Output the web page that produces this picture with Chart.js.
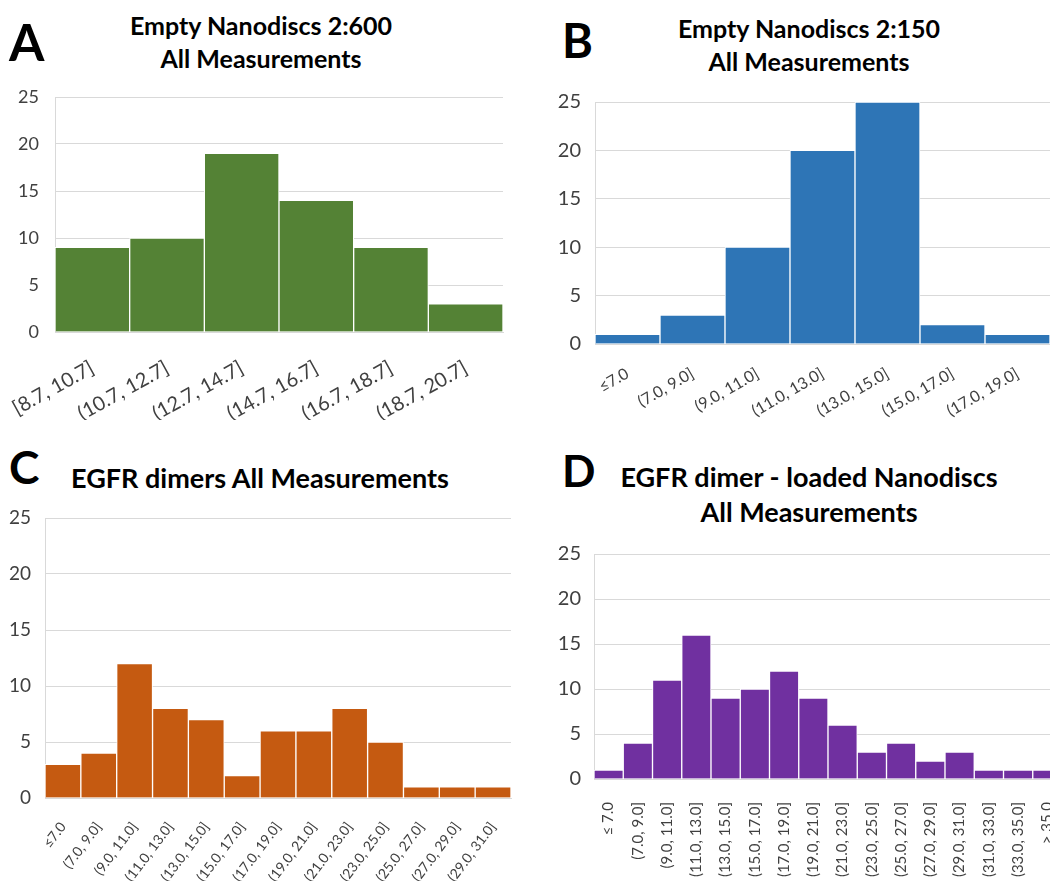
<!DOCTYPE html>
<html>
<head>
<meta charset="utf-8">
<script src="https://cdn.jsdelivr.net/npm/chart.js@4.4.0/dist/chart.umd.min.js"></script>
<style>
  body { margin: 0; background: #fff; width: 1050px; height: 881px; overflow: hidden; position: relative; font-family: Lato, sans-serif; }
  canvas { position: absolute; }
  .letter { position: absolute; font-weight: bold; line-height: 1; color: #000; }
  .title { position: absolute; font-weight: bold; color: #000; text-align: center; white-space: nowrap; transform: translateX(-50%); }
</style>
</head>
<body>

<div class="letter" style="left:9px;top:16px;font-size:51px;">A</div>
<div class="title" style="left:261px;top:9px;font-size:25px;line-height:33px;">Empty Nanodiscs 2:600<br>All Measurements</div>
<canvas id="chartA" width="520" height="340" style="left:0;top:80px;"></canvas>

<div class="letter" style="left:562px;top:17px;font-size:47px;">B</div>
<div class="title" style="left:809px;top:12px;font-size:25px;line-height:33px;">Empty Nanodiscs 2:150<br>All Measurements</div>
<canvas id="chartB" width="530" height="340" style="left:520px;top:80px;"></canvas>

<div class="letter" style="left:9px;top:444px;font-size:46px;">C</div>
<div class="title" style="left:260px;top:461px;font-size:27px;line-height:33px;">EGFR dimers All Measurements</div>
<canvas id="chartC" width="520" height="381" style="left:0;top:500px;"></canvas>

<div class="letter" style="left:562px;top:448px;font-size:44px;">D</div>
<div class="title" style="left:809px;top:459px;font-size:27px;line-height:35px;">EGFR dimer - loaded Nanodiscs<br>All Measurements</div>
<canvas id="chartD" width="542" height="351" style="left:520px;top:530px;"></canvas>

<script>
// counts per bin
const labelsA = ["[8.7, 10.7]", "(10.7, 12.7]", "(12.7, 14.7]", "(14.7, 16.7]", "(16.7, 18.7]", "(18.7, 20.7]"];
const countsA = [9, 10, 19, 14, 9, 3];

const labelsB = ["≤7.0", "(7.0, 9.0]", "(9.0, 11.0]", "(11.0, 13.0]", "(13.0, 15.0]", "(15.0, 17.0]", "(17.0, 19.0]"];
const countsB = [1, 3, 10, 20, 25, 2, 1];

const labelsC = ["≤7.0", "(7.0, 9.0]", "(9.0, 11.0]", "(11.0, 13.0]", "(13.0, 15.0]", "(15.0, 17.0]", "(17.0, 19.0]",
  "(19.0, 21.0]", "(21.0, 23.0]", "(23.0, 25.0]", "(25.0, 27.0]", "(27.0, 29.0]", "(29.0, 31.0]"];
const countsC = [3, 4, 12, 8, 7, 2, 6, 6, 8, 5, 1, 1, 1];

const labelsD = ["≤ 7.0", "(7.0, 9.0]", "(9.0, 11.0]", "(11.0, 13.0]", "(13.0, 15.0]", "(15.0, 17.0]", "(17.0, 19.0]",
  "(19.0, 21.0]", "(21.0, 23.0]", "(23.0, 25.0]", "(25.0, 27.0]", "(27.0, 29.0]", "(29.0, 31.0]", "(31.0, 33.0]",
  "(33.0, 35.0]", "> 35.0"];
const countsD = [1, 4, 11, 16, 9, 10, 12, 9, 6, 3, 4, 2, 3, 1, 1, 1];

const yTicks = [0, 5, 10, 15, 20, 25];

const gridGray = "#d9d9d9";
const textGray = "#404040";

function makeChart(id, labels, counts, color, cfg) {
  return new Chart(document.getElementById(id), {
    type: "bar",
    data: {
      labels: labels,
      datasets: [{
        data: counts,
        backgroundColor: color,
        borderColor: "#ffffff",
        borderWidth: 1,
        barPercentage: 1,
        categoryPercentage: 1
      }]
    },
    options: {
      responsive: false,
      animation: false,
      layout: { padding: { top: cfg.top, right: cfg.right, bottom: 0, left: 0 } },
      plugins: { legend: { display: false }, tooltip: { enabled: false } },
      scales: {
        x: {
          grid: { display: false },
          border: { color: gridGray },
          ticks: {
            autoSkip: false,
            minRotation: cfg.rot,
            maxRotation: cfg.rot,
            padding: cfg.xPad,
            color: textGray,
            font: { family: "Lato", size: cfg.xFont }
          },
          afterFit: s => { s.height = cfg.xH; s.paddingLeft = 0; s.paddingRight = 0; }
        },
        y: {
          min: 0,
          max: 25,
          afterBuildTicks: s => { s.ticks = yTicks.map(v => ({ value: v })); },
          ticks: { padding: cfg.yPad, color: textGray, font: { family: "Lato", size: cfg.yFont } },
          grid: { color: gridGray, drawTicks: false },
          border: { color: gridGray },
          afterFit: s => { s.width = cfg.yW; s.paddingTop = 0; s.paddingBottom = 0; }
        }
      }
    }
  });
}

makeChart("chartA", labelsA, countsA, "#548235",
  { top: 17, right: 17, yW: 55, xH: 88, rot: 29, xPad: 16, xFont: 20, yPad: 16, yFont: 18 });

makeChart("chartB", labelsB, countsB, "#2e75b6",
  { top: 22, right: 0, yW: 75, xH: 76, rot: 30, xPad: 12, xFont: 16, yPad: 14, yFont: 20 });

makeChart("chartC", labelsC, countsC, "#c55a11",
  { top: 18, right: 9, yW: 45, xH: 83, rot: 53, xPad: 13, xFont: 14, yPad: 14, yFont: 19 });

makeChart("chartD", labelsD, countsD, "#7030a0",
  { top: 24, right: 0, yW: 74, xH: 102, rot: 90, xPad: 15, xFont: 15, yPad: 13, yFont: 20 });
</script>
</body>
</html>
